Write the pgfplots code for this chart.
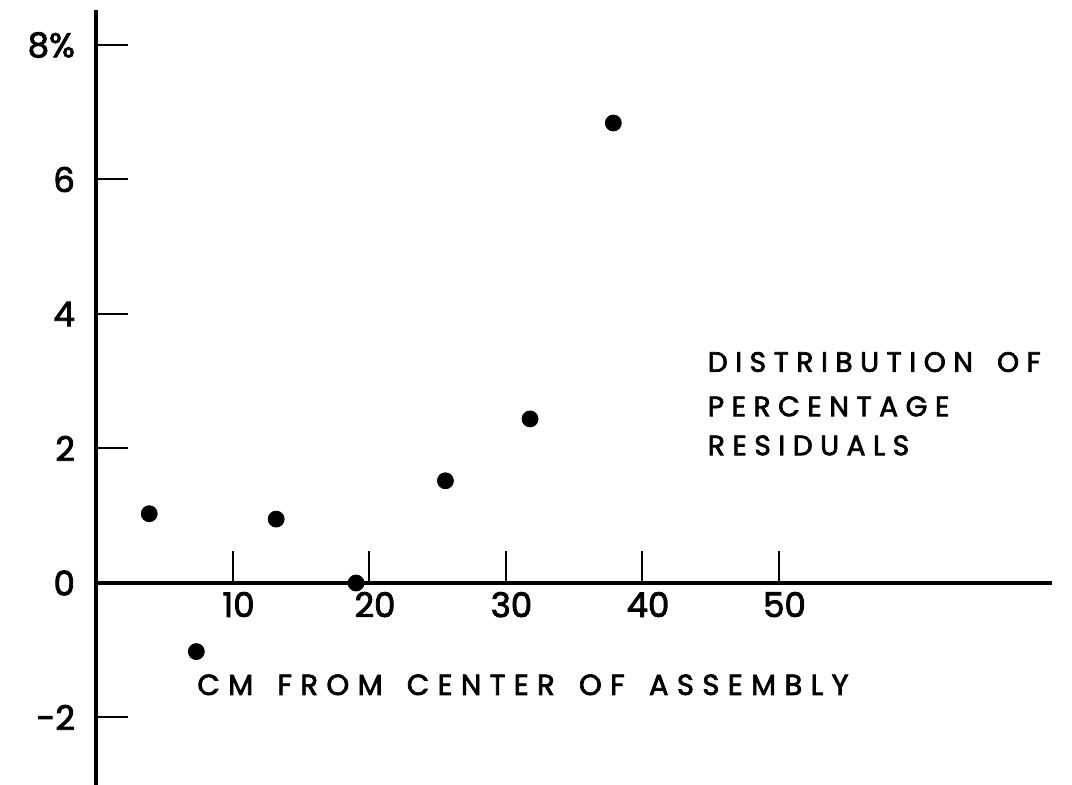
\documentclass[border=0pt]{standalone}
\usepackage{pgfplots}
\pgfplotsset{compat=1.18}
\usepackage{fontspec}
\setmainfont{Poppins}
\newfontfamily\spacedA[LetterSpace=27, WordSpace=1.6, FakeBold=2.5]{Poppins}
\newfontfamily\spacedB[LetterSpace=29, WordSpace=1.5, FakeBold=2.5]{Poppins}
\newfontfamily\tickfont[FakeBold=2.5]{Poppins}
\begin{document}
\begin{tikzpicture}
\path[use as bounding box] (-48pt,-101pt) rectangle (488pt,291.5pt);
\begin{axis}[
  anchor=origin, at={(0pt,0pt)},
  scale only axis,
  x=6.825pt, y=33.625pt,
  xmin=0, xmax=70, ymin=-3.0, ymax=8.52,
  axis lines=middle,
  axis line style={-, line width=1.6pt},
  clip=false,
  tick align=inside,
  major tick length=16pt,
  tick style={line width=1pt, black},
  xtick={10,20,30,40,50},
  ytick={-2,0,2,4,6,8},
  yticklabels={-2,0,2,4,6,8\%},
  hide obscured y ticks=false,
  xticklabel style={font=\fontsize{17}{18}\tickfont, yshift=-1pt, xshift=3pt},
  yticklabel style={font=\fontsize{17}{18}\tickfont, xshift=-7pt},
  /pgf/number format/assume math mode=true,
]
\addplot[only marks, mark=*, mark size=4pt, black] coordinates {
  (3.9,1.03) (7.35,-1.02) (13.2,0.95) (19.05,0.0) (25.6,1.52) (31.8,2.44) (37.9,6.84)
};
\node[anchor=base west, inner sep=0pt, font=\fontsize{14}{16}\spacedA] at (axis cs:44.8,3.14) {DISTRIBUTION OF};
\node[anchor=base west, inner sep=0pt, font=\fontsize{14}{16}\spacedA] at (axis cs:44.8,2.48) {PERCENTAGE};
\node[anchor=base west, inner sep=0pt, font=\fontsize{14}{16}\spacedA] at (axis cs:44.8,1.90) {RESIDUALS};
\node[anchor=base west, inner sep=0pt, font=\fontsize{14.5}{16}\spacedB] at (axis cs:7.4,-1.665) {CM FROM CENTER OF ASSEMBLY};
\end{axis}
\end{tikzpicture}
\end{document}
